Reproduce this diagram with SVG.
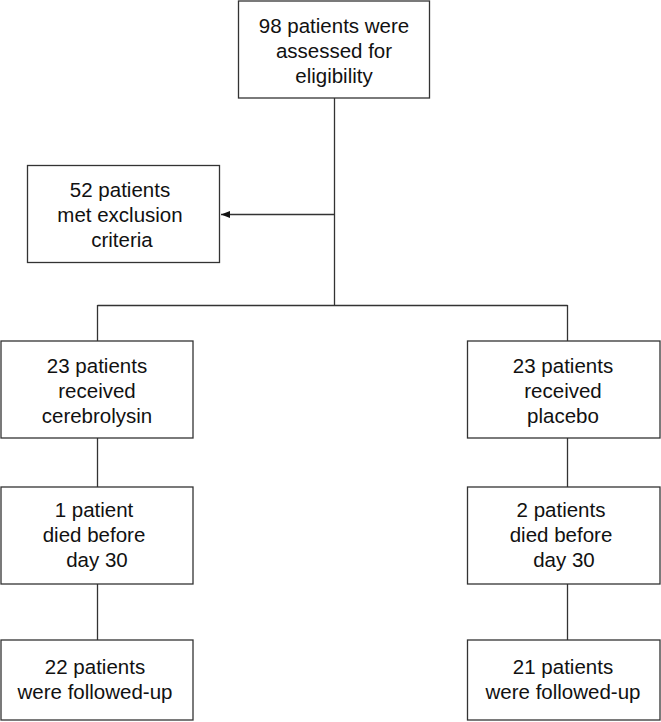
<svg xmlns="http://www.w3.org/2000/svg" width="661" height="722" viewBox="0 0 661 722">
<defs>
<style>
.box{fill:#fff;stroke:#333;stroke-width:1.3}
.ln{fill:none;stroke:#333;stroke-width:1.3}
text{font-family:"Liberation Sans",Arial,sans-serif;font-size:20.5px;fill:#111;text-anchor:middle}
</style>
<marker id="ah" viewBox="0 0 10 10" refX="10" refY="5" markerWidth="9" markerHeight="9" markerUnits="userSpaceOnUse" orient="auto">
<path d="M0,1 L10,5 L0,9 z" fill="#111"/>
</marker>
</defs>
<rect width="661" height="722" fill="#fff"/>
<g id="connectors">
<line class="ln" x1="334.5" y1="98" x2="334.5" y2="305.5"/>
<line class="ln" x1="334.5" y1="214.5" x2="221" y2="214.5" marker-end="url(#ah)"/>
<line class="ln" x1="97.5" y1="305.5" x2="567.5" y2="305.5"/>
<line class="ln" x1="97.5" y1="305" x2="97.5" y2="341"/>
<line class="ln" x1="567.5" y1="305" x2="567.5" y2="341"/>
<line class="ln" x1="97.5" y1="438" x2="97.5" y2="487"/>
<line class="ln" x1="567.5" y1="438" x2="567.5" y2="487"/>
<line class="ln" x1="97.5" y1="584" x2="97.5" y2="640"/>
<line class="ln" x1="567.5" y1="584" x2="567.5" y2="640"/>
</g>
<g id="n_assessed">
<rect class="box" x="238.5" y="1" width="191" height="97"/>
<text x="334" y="33">98 patients were</text>
<text x="334" y="58">assessed for</text>
<text x="334" y="83">eligibility</text>
</g>
<g id="n_excluded">
<rect class="box" x="27.5" y="165.5" width="192" height="97"/>
<text x="120" y="197">52 patients</text>
<text x="120" y="222">met exclusion</text>
<text x="122" y="247">criteria</text>
</g>
<g id="n_cerebrolysin">
<rect class="box" x="1" y="341" width="192" height="97"/>
<text x="97" y="373">23 patients</text>
<text x="97" y="398">received</text>
<text x="97" y="423">cerebrolysin</text>
</g>
<g id="n_placebo">
<rect class="box" x="467.5" y="341" width="192.5" height="97"/>
<text x="563" y="373">23 patients</text>
<text x="563" y="398">received</text>
<text x="563" y="423">placebo</text>
</g>
<g id="n_died_left">
<rect class="box" x="1" y="487" width="192" height="97"/>
<text x="94" y="517">1 patient</text>
<text x="94" y="542">died before</text>
<text x="97" y="567">day 30</text>
</g>
<g id="n_died_right">
<rect class="box" x="467.5" y="487" width="192.5" height="97"/>
<text x="561" y="517">2 patients</text>
<text x="561" y="542">died before</text>
<text x="564" y="567">day 30</text>
</g>
<g id="n_follow_left">
<rect class="box" x="1" y="640" width="192" height="80"/>
<text x="95" y="674">22 patients</text>
<text x="95" y="699">were followed-up</text>
</g>
<g id="n_follow_right">
<rect class="box" x="467.5" y="640" width="192.5" height="80"/>
<text x="563" y="674">21 patients</text>
<text x="563" y="699">were followed-up</text>
</g>
</svg>
